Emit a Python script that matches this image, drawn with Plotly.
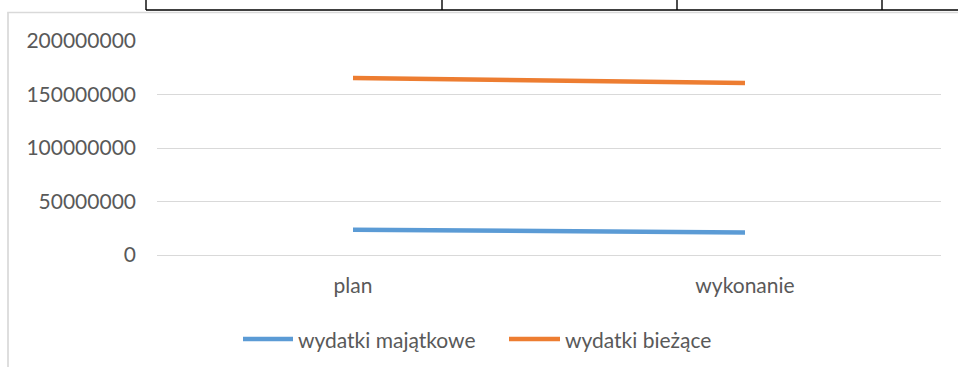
import plotly.graph_objects as go

# --- data -------------------------------------------------------------
categories = ["plan", "wykonanie"]
wydatki_majatkowe = [23_600_000, 21_100_000]
wydatki_biezace = [165_500_000, 160_800_000]
y_ticks = [0, 50_000_000, 100_000_000, 150_000_000, 200_000_000]

series_names = ["wydatki majątkowe", "wydatki bieżące"]
series_colors = ["#5B9BD5", "#ED7D31"]

# --- page geometry ----------------------------------------------------
W, H = 958, 367
L, R, T, B = 157, 17, 41, 112
PW, PH = W - L - R, H - T - B
FONT = "Lato"
GREY = "#595959"


def px(x):
    """page x (pixels) -> paper x"""
    return (x - L) / PW


def py(y):
    """page y (pixels from top) -> paper y"""
    return (H - B - y) / PH


fig = go.Figure()
for name, vals, col in zip(series_names, [wydatki_majatkowe, wydatki_biezace], series_colors):
    fig.add_trace(go.Scatter(
        x=categories, y=vals, name=name, mode="lines",
        line=dict(color=col, width=4.5), showlegend=False,
    ))

shapes = []
annotations = []

# chart frame (light grey, runs past the right/bottom edges of the page)
shapes.append(dict(type="line", xref="paper", yref="paper",
                   x0=px(8), x1=px(8), y0=py(12.5), y1=py(H + 5),
                   line=dict(color="#D9D9D9", width=1.7)))
shapes.append(dict(type="line", xref="paper", yref="paper",
                   x0=px(7.2), x1=px(W + 5), y0=py(12.5), y1=py(12.5),
                   line=dict(color="#D9D9D9", width=1.7)))

# borders of the table row printed above the chart
shapes.append(dict(type="line", xref="paper", yref="paper",
                   x0=px(146), x1=px(W + 5), y0=py(10), y1=py(10),
                   line=dict(color="black", width=1.4)))
for xv in [146, 442, 677, 882]:
    shapes.append(dict(type="line", xref="paper", yref="paper",
                       x0=px(xv), x1=px(xv), y0=py(-5), y1=py(10),
                       line=dict(color="black", width=1.4)))

# legend
leg_y = 339
for name, col, x0, x1, tx in zip(series_names, series_colors,
                                 [243, 509], [293, 560], [296, 563]):
    shapes.append(dict(type="line", xref="paper", yref="paper",
                       x0=px(x0), x1=px(x1), y0=py(leg_y), y1=py(leg_y),
                       line=dict(color=col, width=4.5)))
    annotations.append(dict(text=name, xref="paper", yref="paper",
                            x=px(tx), y=py(leg_y), xanchor="left", yanchor="middle",
                            showarrow=False,
                            font=dict(family=FONT, size=21, color=GREY)))

fig.update_layout(
    width=W, height=H,
    margin=dict(l=L, r=R, t=T, b=B, pad=0),
    paper_bgcolor="white", plot_bgcolor="white",
    font=dict(family=FONT, size=21, color=GREY),
    shapes=shapes, annotations=annotations,
    showlegend=False,
)
fig.update_xaxes(
    type="category", range=[-0.5, 1.5],
    showgrid=False, showline=False, zeroline=False, ticks="",
    ticklabelstandoff=16,
    tickfont=dict(family=FONT, size=21, color=GREY),
)
fig.update_yaxes(
    range=[0, 200_000_000], tickvals=y_ticks, tickformat="d",
    showgrid=True, gridcolor="#D9D9D9", gridwidth=1.2,
    zeroline=True, zerolinecolor="#D9D9D9", zerolinewidth=1.2,
    showline=False, ticks="", ticklabelstandoff=20,
    tickfont=dict(family=FONT, size=21, color=GREY),
)

fig.write_html("out.html", config=dict(displayModeBar=False))
